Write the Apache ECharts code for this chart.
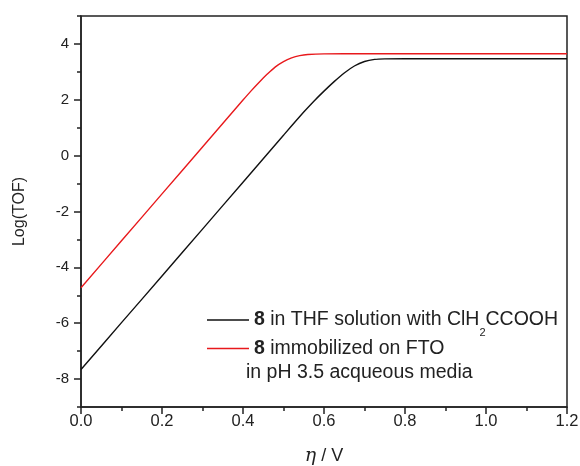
<!DOCTYPE html>
<html>
<head>
<meta charset="utf-8">
<script src="https://cdn.jsdelivr.net/npm/echarts@6/dist/echarts.min.js"></script>
<style>
  html, body { margin: 0; padding: 0; background: #fff; }
  #chart { width: 580px; height: 466px; }
</style>
</head>
<body>
<div id="chart"></div>
<script>
// values
var etaBlack = [0, 0.1, 0.2, 0.3, 0.4, 0.5, 0.55, 0.575, 0.6, 0.625, 0.65, 0.675, 0.7, 0.725, 0.75, 0.8, 0.9, 1.0, 1.1, 1.2];
var logBlack = [-7.66, -5.98, -4.31, -2.63, -0.95, 0.73, 1.56, 1.95, 2.31, 2.65, 2.96, 3.21, 3.37, 3.445, 3.465, 3.47, 3.47, 3.47, 3.47, 3.47];

var etaRed = [0, 0.1, 0.2, 0.3, 0.4, 0.42, 0.44, 0.46, 0.48, 0.5, 0.52, 0.54, 0.56, 0.6, 0.7, 0.8, 1.0, 1.2];
var logRed = [-4.73, -3.05, -1.37, 0.31, 1.99, 2.32, 2.63, 2.92, 3.18, 3.37, 3.5, 3.58, 3.62, 3.645, 3.65, 3.65, 3.65, 3.65];

var seriesNames = ['THF', 'FTO'];
var yMajorTicks = [-8, -6, -4, -2, 0, 2, 4];
var yMinorTicks = [-9, -7, -5, -3, -1, 1, 3, 5];
var legendNote = 'in pH 3.5 acqueous media';

var font = 'Liberation Sans, Arial, sans-serif';
var ink = '#222';

function pairs(xs, ys) {
    return xs.map(function (x, i) { return [x, ys[i]]; });
}

var chart = echarts.init(document.getElementById('chart'));

var option = {
    animation: false,
    backgroundColor: '#fff',
    grid: {
        left: 81, right: 13, top: 16, bottom: 59,
        outerBoundsMode: 'none',
        show: true, borderColor: ink, borderWidth: 1.5
    },
    legend: {
        orient: 'vertical',
        left: 207, top: 310,
        padding: 0,
        icon: 'path://M0 0 H100 V3 H0 Z',
        itemWidth: 42, itemHeight: 14, itemGap: 0,
        data: seriesNames,
        textStyle: {
            fontFamily: font, fontSize: 19.5, color: ink,
            rich: {
                b: { fontFamily: font, fontSize: 19.5, fontWeight: 'bold', color: ink },
                s: { fontFamily: font, fontSize: 11, color: ink, lineHeight: 37, verticalAlign: 'bottom' }
            }
        },
        formatter: function (name) {
            if (name === 'THF') return '{b|8} in THF solution with ClH{s|2}CCOOH';
            return '{b|8} immobilized on FTO';
        }
    },
    graphic: [{
        type: 'text',
        left: 246, top: 363,
        style: { text: legendNote, font: '19.5px ' + font, fill: ink }
    }],
    xAxis: {
        type: 'value',
        min: 0, max: 1.2, interval: 0.2,
        name: '{i|η} / V',
        nameLocation: 'middle',
        nameGap: 40,
        nameTextStyle: {
            fontFamily: font, fontSize: 18, color: ink,
            rich: { i: { fontFamily: 'DejaVu Serif, serif', fontStyle: 'italic', fontSize: 19, color: ink } }
        },
        axisLine: { onZero: false, lineStyle: { color: ink, width: 1.5 } },
        axisTick: { length: 7, lineStyle: { color: ink, width: 1.5 } },
        minorTick: { show: true, splitNumber: 2, length: 4, lineStyle: { color: ink, width: 1.5 } },
        axisLabel: {
            margin: 6, fontFamily: font, fontSize: 16.5, color: ink,
            formatter: function (v) { return v.toFixed(1); }
        },
        splitLine: { show: false }
    },
    yAxis: [{
        type: 'value',
        min: -9, max: 5,
        name: 'Log(TOF)',
        nameLocation: 'middle',
        nameGap: 53,
        nameTextStyle: { fontFamily: font, fontSize: 16, color: ink },
        axisLine: { onZero: false, lineStyle: { color: ink, width: 1.5 } },
        axisTick: { length: 7, customValues: yMajorTicks, lineStyle: { color: ink, width: 1.5 } },
        axisLabel: { margin: 12, customValues: yMajorTicks, fontFamily: font, fontSize: 15, color: ink },
        splitLine: { show: false }
    }, {
        // short ticks at the odd values
        type: 'value',
        position: 'left',
        min: -9, max: 5,
        axisLine: { show: false },
        axisTick: { show: true, length: 4, customValues: yMinorTicks, lineStyle: { color: ink, width: 1.5 } },
        axisLabel: { show: false },
        splitLine: { show: false }
    }],
    series: [{
        name: seriesNames[0],
        type: 'line',
        data: pairs(etaBlack, logBlack),
        symbol: 'none',
        smooth: 0.3,
        lineStyle: { color: '#111', width: 1.4 },
        itemStyle: { color: '#111' }
    }, {
        name: seriesNames[1],
        type: 'line',
        data: pairs(etaRed, logRed),
        symbol: 'none',
        smooth: 0.3,
        lineStyle: { color: '#e8191c', width: 1.4 },
        itemStyle: { color: '#e8191c' }
    }]
};

chart.setOption(option);
</script>
</body>
</html>
